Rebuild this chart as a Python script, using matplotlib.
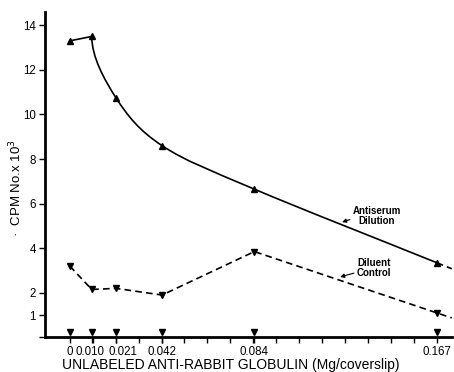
import matplotlib
matplotlib.use('Agg')
import matplotlib.pyplot as plt
import matplotlib.transforms as mtransforms
from matplotlib.path import Path
from matplotlib.patches import PathPatch
import numpy as np

plt.rcParams['font.family'] = ['Liberation Sans', 'DejaVu Sans']

# mg/coverslip
doses = [0, 0.010, 0.021, 0.042, 0.084, 0.167]
dose_labels = ['0', '0.010', '0.021', '0.042', '0.084', '0.167']
antiserum = [13.3, 13.5, 10.75, 8.6, 6.65, 3.35]
diluent = [3.2, 2.15, 2.2, 1.9, 3.85, 1.1]
background = [0.25, 0.25, 0.25, 0.25, 0.25, 0.25]
y_ticks = [1, 2, 4, 6, 8, 10, 12, 14]

fig = plt.figure(figsize=(4.54, 3.72), dpi=100)
ax = fig.add_axes([0.099, 0.093, 0.896, 0.875])
ax.set_xlim(-0.0113, 0.1738)
ax.set_ylim(0, 14.6)

# antiserum: straight first step, then smooth curve through the rest
x = np.array(doses)
y = np.array(antiserum)
ax.plot(x[:2], y[:2], color='black', lw=1.2)
pts = np.column_stack([x[1:], y[1:]])
tang = np.zeros_like(pts)
tang[0] = [0, -(pts[0, 1] - pts[1, 1]) * 1.0]
for i in range(1, len(pts) - 1):
    tang[i] = (pts[i + 1] - pts[i - 1]) / 2
tang[-1] = pts[-1] - pts[-2]
verts = [pts[0]]
codes = [Path.MOVETO]
for i in range(len(pts) - 1):
    verts += [pts[i] + tang[i] / 3, pts[i + 1] - tang[i + 1] / 3, pts[i + 1]]
    codes += [Path.CURVE4] * 3
ax.add_patch(PathPatch(Path(verts, codes), fill=False, color='black', lw=1.2))
ax.plot(x, y, linestyle='none', marker='^', color='black', ms=4.5)

# dashed run-off past the last dose
x_end = ax.get_xlim()[1]
s1 = (y[-1] - y[-2]) / (x[-1] - x[-2])
ax.plot([x[-1], x_end], [y[-1], y[-1] + s1 * (x_end - x[-1])],
        color='black', lw=1.2, dashes=(4, 2.5))

d = np.array(diluent)
s2 = (d[-1] - d[-2]) / (x[-1] - x[-2])
ax.plot(list(x) + [x_end], list(d) + [d[-1] + s2 * (x_end - x[-1])],
        color='black', lw=1.2, dashes=(4, 2.5))
ax.plot(x, d, linestyle='none', marker='v', color='black', ms=4.5)

ax.plot(x, background, linestyle='none', marker='v', color='black', ms=4.5,
        clip_on=False)

ax.annotate('Antiserum\nDilution', xy=(0.1239, 5.17), xytext=(0.1397, 5.44),
            ha='center', va='center', fontsize=7, fontweight='bold',
            linespacing=1.05,
            arrowprops=dict(arrowstyle='-|>', color='black', lw=0.8,
                            mutation_scale=6, shrinkA=0, shrinkB=0,
                            relpos=(0.03, 0.4)))
ax.annotate('Diluent\nControl', xy=(0.123, 2.71), xytext=(0.1384, 3.11),
            ha='center', va='center', fontsize=7, fontweight='bold',
            linespacing=1.05,
            arrowprops=dict(arrowstyle='-|>', color='black', lw=0.8,
                            mutation_scale=6, shrinkA=0, shrinkB=0,
                            relpos=(0.02, 0.3)))

for side in ['top', 'right']:
    ax.spines[side].set_visible(False)
for side in ['left', 'bottom']:
    ax.spines[side].set_linewidth(2)

ax.set_yticks([0] + y_ticks)
ax.set_yticklabels([''] + [str(v) for v in y_ticks])
step = doses[-1] / 16
ax.set_xticks([i * step for i in range(17)], minor=True)
ax.set_xticks(doses)
ax.set_xticklabels(dose_labels)
ax.tick_params(axis='both', which='both', direction='out', length=4,
               width=1, colors='black')
ax.tick_params(axis='x', which='major', labelsize=8.3, pad=2.5)
ax.tick_params(axis='y', which='major', labelsize=8.3, pad=2.5)

# the 0.021 label sits a little to the right in the original
shift = mtransforms.ScaledTranslation(5 / 72, 0, fig.dpi_scale_trans)
lab = ax.get_xticklabels()[2]
lab.set_transform(lab.get_transform() + shift)
shift0 = mtransforms.ScaledTranslation(-1 / 72, 0, fig.dpi_scale_trans)
lab1 = ax.get_xticklabels()[1]
lab1.set_transform(lab1.get_transform() + shift0)

ax.set_xlabel('UNLABELED ANTI-RABBIT GLOBULIN (Mg/coverslip)', fontsize=10)
ax.xaxis.set_label_coords(0.456, -0.062)
ax.set_ylabel('·  CPM No.x 10$^3$', fontsize=9.5)
ax.yaxis.set_label_coords(-0.05, 0.46)

fig.savefig('out.png', dpi=100)
